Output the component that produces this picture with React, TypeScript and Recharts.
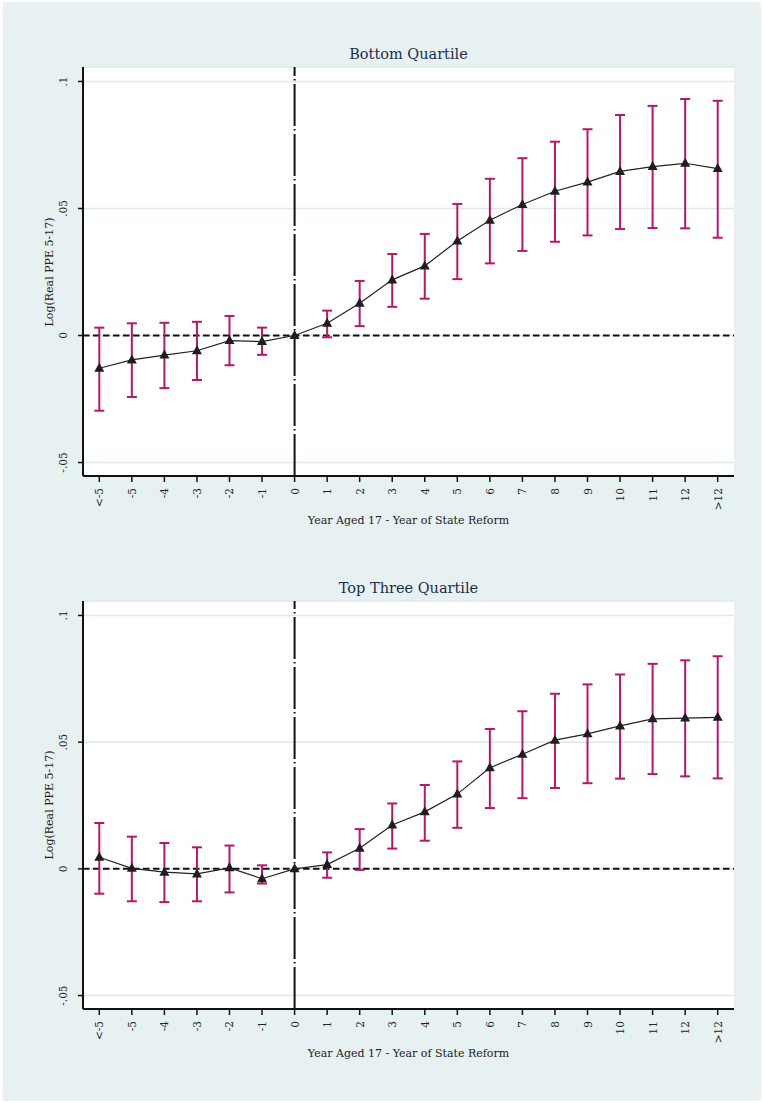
import React from 'react'
import {
  ComposedChart,
  Line,
  ErrorBar,
  XAxis,
  YAxis,
  CartesianGrid,
  ReferenceLine,
} from 'recharts'

const categories = ['<-5', '-5', '-4', '-3', '-2', '-1', '0', '1', '2', '3', '4', '5', '6', '7', '8', '9', '10', '11', '12', '>12']

// Bottom quartile: point estimates and 95% CI bounds
const bottomEst = [-0.0129, -0.0096, -0.0077, -0.006, -0.002, -0.0024, 0, 0.0048, 0.0127, 0.0219, 0.0274, 0.0372, 0.0454, 0.0516, 0.0568, 0.0604, 0.0646, 0.0665, 0.0678, 0.0657]
const bottomLo = [-0.0296, -0.0242, -0.0207, -0.0175, -0.0117, -0.0076, 0, -0.0007, 0.0037, 0.0113, 0.0145, 0.0222, 0.0284, 0.0333, 0.0369, 0.0394, 0.0419, 0.0423, 0.0422, 0.0385]
const bottomHi = [0.0031, 0.0048, 0.005, 0.0054, 0.0077, 0.0031, 0, 0.0098, 0.0215, 0.0321, 0.04, 0.0518, 0.0617, 0.0698, 0.0763, 0.0812, 0.0868, 0.0904, 0.0931, 0.0924]

// Top three quartiles
const topEst = [0.0046, 0.0002, -0.0013, -0.002, 0.0004, -0.0039, 0, 0.0017, 0.0081, 0.0173, 0.0225, 0.0295, 0.0399, 0.0452, 0.0508, 0.0533, 0.0564, 0.0592, 0.0595, 0.0598]
const topLo = [-0.0098, -0.0128, -0.0131, -0.0128, -0.0093, -0.0058, 0, -0.0035, -0.0004, 0.008, 0.0111, 0.0162, 0.024, 0.0279, 0.0319, 0.0338, 0.0356, 0.0374, 0.0365, 0.0357]
const topHi = [0.0181, 0.0127, 0.0102, 0.0085, 0.0092, 0.0014, 0, 0.0065, 0.0157, 0.0258, 0.0331, 0.0424, 0.0552, 0.0622, 0.0691, 0.0728, 0.0767, 0.0809, 0.0823, 0.0839]

const yTicks = [-0.05, 0, 0.05, 0.1]

const FONT = '"DejaVu Serif", "Liberation Serif", serif'
const BG = '#e8f1f2'
const CI_COLOR = '#b3196b'
const TITLE_COLOR = '#1c2c4e'

const fmtY = (v: number) => {
  if (v === 0) return '0'
  const s = String(v)
  return s.replace('0.', '.')
}

const Triangle = (props: any) => {
  const { cx, cy } = props
  if (cx == null || cy == null) return null
  return <path d={`M${cx},${cy - 5.5} L${cx + 5},${cy + 3.5} L${cx - 5},${cy + 3.5} Z`} fill="#1e1e1e" />
}

const XTick = (props: any) => {
  const { x, y, payload } = props
  return (
    <text
      x={x}
      y={y + 4}
      transform={`rotate(-90, ${x}, ${y + 4})`}
      textAnchor="end"
      dominantBaseline="central"
      fontSize={10.5}
      fontFamily={FONT}
      fill="#222"
    >
      {payload.value}
    </text>
  )
}

const YTick = (props: any) => {
  const { x, y, payload } = props
  const tx = x - 13
  return (
    <text
      x={tx}
      y={y}
      transform={`rotate(-90, ${tx}, ${y})`}
      textAnchor="middle"
      dominantBaseline="central"
      fontSize={10.5}
      fontFamily={FONT}
      fill="#222"
    >
      {fmtY(payload.value)}
    </text>
  )
}

interface PanelProps {
  title: string
  est: number[]
  lo: number[]
  hi: number[]
  height: number
  top: number
  xAxisHeight: number
}

function Panel({ title, est, lo, hi, height, top, xAxisHeight }: PanelProps) {
  const data = categories.map((c, i) => ({
    cat: c,
    est: est[i],
    ci: lo[i] === hi[i] ? null : [est[i] - lo[i], hi[i] - est[i]],
  }))
  const plotTop = top
  const plotBottom = height - xAxisHeight
  const midY = (plotTop + plotBottom) / 2
  return (
    <div style={{ position: 'relative', width: 763, height }}>
      <div
        style={{
          position: 'absolute', left: 83, width: 651, top: top - 21, textAlign: 'center',
          fontFamily: FONT, fontSize: 14.5, color: TITLE_COLOR, lineHeight: '16px',
        }}
      >
        {title}
      </div>
      <div
        style={{
          position: 'absolute', left: 50 - 100, top: midY - 8, width: 200, textAlign: 'center',
          transform: 'rotate(-90deg)', fontFamily: FONT, fontSize: 11, color: '#222', lineHeight: '16px',
        }}
      >
        Log(Real PPE 5-17)
      </div>
      <div
        style={{
          position: 'absolute', left: 83, width: 651, top: plotBottom + 37, textAlign: 'center',
          fontFamily: FONT, fontSize: 11, color: '#222', lineHeight: '16px',
        }}
      >
        Year Aged 17 - Year of State Reform
      </div>
      <ComposedChart
        width={763}
        height={height}
        data={data}
        margin={{ top, right: 29, bottom: 0, left: 0 }}
        style={{ position: 'absolute', left: 0, top: 0 }}
      >
        <CartesianGrid fill="#ffffff" vertical={false} stroke="#dce9ec" strokeWidth={1.5} />
        <XAxis
          dataKey="cat"
          type="category"
          interval={0}
          height={xAxisHeight}
          padding={{ left: 16.3, right: 16.3 }}
          tick={<XTick />}
          tickSize={6}
          axisLine={{ stroke: '#111', strokeWidth: 2 }}
          tickLine={{ stroke: '#111', strokeWidth: 1.5 }}
        />
        <YAxis
          width={83}
          type="number"
          domain={[-0.0553, 0.1057]}
          allowDataOverflow
          ticks={yTicks}
          tick={<YTick />}
          tickSize={5}
          axisLine={{ stroke: '#111', strokeWidth: 2 }}
          tickLine={{ stroke: '#111', strokeWidth: 1.5 }}
        />
        <ReferenceLine y={0} stroke="#111" strokeWidth={2} strokeDasharray="6.5 3.5" />
        <ReferenceLine x="0" stroke="#111" strokeWidth={2} strokeDasharray="42 3.5 1.5 3" />
        <Line
          dataKey="est"
          stroke="#222"
          strokeWidth={1.2}
          dot={<Triangle />}
          isAnimationActive={false}
        >
          <ErrorBar dataKey="ci" direction="y" width={5} stroke={CI_COLOR} strokeWidth={2} isAnimationActive={false} />
        </Line>
      </ComposedChart>
    </div>
  )
}

export default function App() {
  return (
    <div style={{ position: 'absolute', left: 0, top: 0, width: 763, height: 1103, background: '#fff' }}>
      <div style={{ position: 'absolute', left: 3, top: 2, width: 758, height: 1099, background: BG }} />
      <div style={{ position: 'absolute', left: 0, top: 0 }}>
        <Panel title="Bottom Quartile" est={bottomEst} lo={bottomLo} hi={bottomHi} height={550} top={67} xAxisHeight={74} />
      </div>
      <div style={{ position: 'absolute', left: 0, top: 550 }}>
        <Panel title="Top Three Quartile" est={topEst} lo={topLo} hi={topHi} height={553} top={51} xAxisHeight={94} />
      </div>
    </div>
  )
}
